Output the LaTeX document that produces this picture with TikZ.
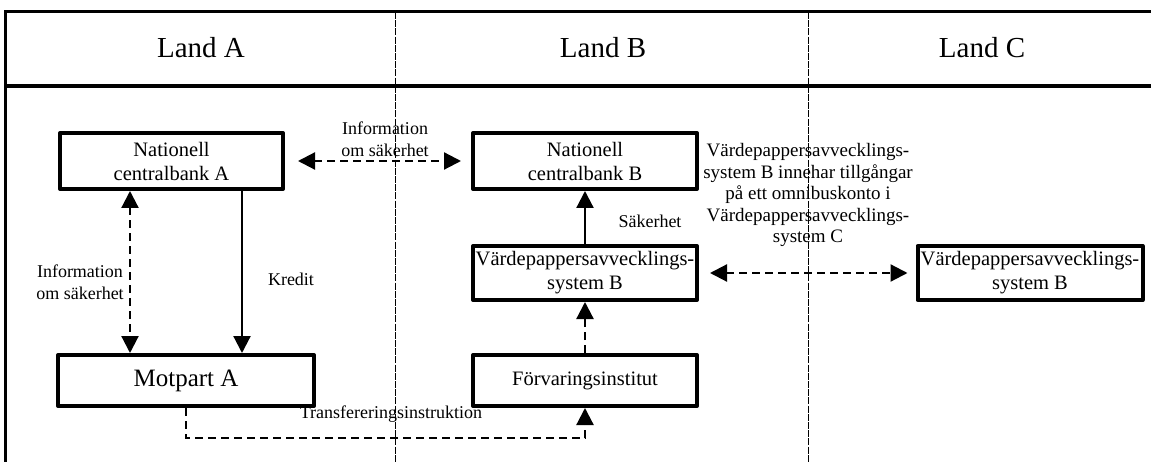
\documentclass[tikz,border=0pt]{standalone}
\usepackage{fontspec}
\setmainfont{Liberation Serif}
\usetikzlibrary{arrows.meta}
\begin{document}
\begin{tikzpicture}[x=1pt,y=-1pt,
  box/.style={draw,line width=4pt,line join=round,minimum width=224pt,minimum height=54pt,align=center,inner sep=0pt,font=\fontsize{20.5}{24}\selectfont},
  lbl/.style={align=center,inner sep=0pt,font=\fontsize{18}{22}\selectfont},
  hdr/.style={inner sep=0pt,font=\fontsize{29}{34}\selectfont},
  conn/.style={line width=2.2pt,{Triangle[length=17pt,width=17pt]}-{Triangle[length=17pt,width=17pt]}},
  oneway/.style={line width=2.2pt,-{Triangle[length=17pt,width=17pt]}},
  dsh/.style={dash pattern=on 8pt off 5pt},
  divider/.style={line width=0.8pt,dash pattern=on 7pt off 1.2pt}]
\useasboundingbox (0,0) rectangle (1151,462);
% frame
\draw[line width=3pt] (5,462) -- (5,12) -- (1151,12);
\draw[line width=4.5pt] (5,86) -- (1151,86);
\coordinate (d1t) at (395,12);
\coordinate (d1b) at (395,462);
\coordinate (d2t) at (808,12);
\coordinate (d2b) at (808,462);
\draw[divider] (d1t) -- (d1b);
\draw[divider] (d2t) -- (d2b);
% headers
\node[hdr] (hA) at (201,48) {Land A};
\node[hdr] (hB) at (603,48) {Land B};
\node[hdr] (hC) at (982,48) {Land C};
% boxes
\node[box,minimum width=223pt,minimum height=56pt] (ncbA) at (171.5,161) {Nationell\\centralbank A};
\node[box,minimum height=56pt] (ncbB) at (585,161) {Nationell\\centralbank B};
\node[box] (vpsB) at (585,273) {Värdepappersavvecklings-\\system B};
\node[box,minimum width=225pt] (vpsC) at (1030,273) {Värdepappersavvecklings-\\system B};
\node[box,minimum width=256pt,minimum height=51pt,font=\fontsize{25}{30}\selectfont] (motA) at (186,380.5) {Motpart A};
\node[box,minimum height=51pt] (forv) at (585,380.5) {Förvaringsinstitut};
% connectors
\draw[conn,dsh,shorten <=13pt,shorten >=10pt] (ncbA.east) -- (ncbB.west);
\draw[conn,dsh] ([xshift=-41.5pt]ncbA.south) -- ([xshift=-41.5pt]ncbA.south |- motA.north);
\draw[oneway] ([xshift=70.5pt]ncbA.south) -- ([xshift=70.5pt]ncbA.south |- motA.north);
\draw[oneway] (vpsB.north) -- (ncbB.south);
\draw[oneway,dsh] (forv.north) -- (vpsB.south);
\draw[conn,dsh,shorten <=11pt,shorten >=8pt] (vpsB.east) -- (vpsC.west);
\draw[oneway,dsh] (motA.south) -- ([yshift=-30pt]motA.south) -| (forv.south);
% labels
\node[lbl] (l1) at (385,139) {Information\\om säkerhet};
\node[lbl] (l2) at (80,282) {Information\\om säkerhet};
\node[lbl] (l3) at (291,279) {Kredit};
\node[lbl] (l4) at (650,221) {Säkerhet};
\node[lbl] (l5) at (391,414) {Transfereringsinstruktion};
\node[lbl,font=\fontsize{19}{21.5}\selectfont] (l6) at (808,195) {Värdepappersavvecklings-\\system B innehar tillgångar\\på ett omnibuskonto i\\Värdepappersavvecklings-\\system C};
\end{tikzpicture}
\end{document}
